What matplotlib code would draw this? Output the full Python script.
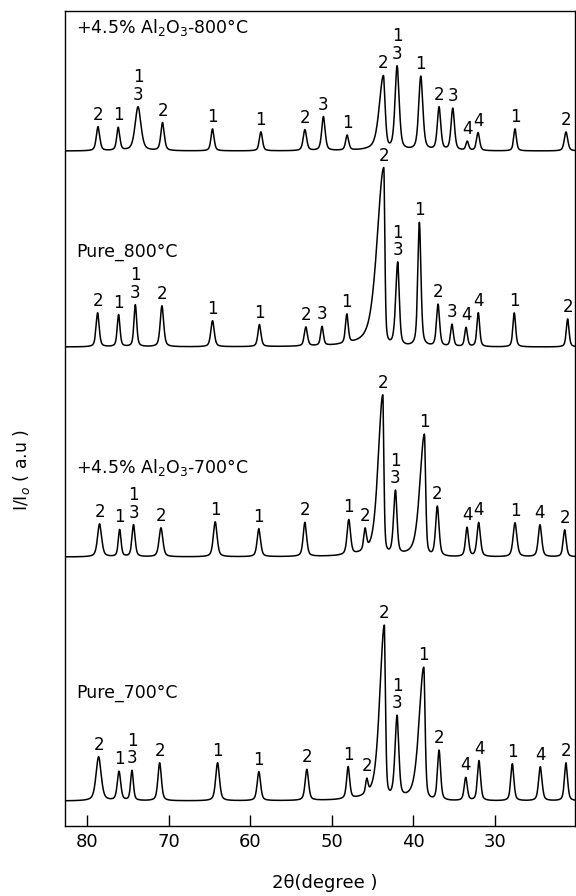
import numpy as np
import matplotlib.pyplot as plt

plt.rcParams['font.family'] = ['DejaVu Sans']

# peak tables: position (2theta), height, fwhm (low-angle side),
# asymmetry (high-angle fwhm / low-angle fwhm), phase label
pos_al800 = [78.65, 76.17, 73.75, 70.74, 64.62, 58.69, 53.3, 51.03, 48.12, 43.68,
             42.0, 39.1, 36.86, 35.18, 33.4, 32.08, 27.55, 21.3]
h_al800 = [24, 23, 44, 28, 22, 19, 21, 34, 15, 74, 84, 74, 43, 42, 9, 18, 22, 19]
w_al800 = [0.5, 0.45, 0.85, 0.5, 0.45, 0.45, 0.5, 0.5, 0.45, 0.5, 0.6, 0.6, 0.5,
           0.5, 0.4, 0.45, 0.4, 0.5]
asym_al800 = [1, 1, 1, 1, 1, 1, 1, 1, 1, 2.4, 1, 1, 1, 1, 1, 1, 1, 1]
lab_al800 = ['2', '1', '1\n3', '2', '1', '1', '2', '3', '1', '2', '1\n3', '1', '2',
             '3', '4', '4', '1', '2']

pos_pure800 = [78.7, 76.13, 74.08, 70.82, 64.62, 58.87, 53.18, 51.2, 48.16, 43.63,
               41.92, 39.27, 36.98, 35.27, 33.55, 32.05, 27.64, 21.1]
h_pure800 = [34, 32, 42, 41, 26, 22, 19, 19, 29, 178, 84, 124, 42, 22, 19, 34, 34, 28]
w_pure800 = [0.45, 0.4, 0.4, 0.5, 0.5, 0.45, 0.45, 0.4, 0.4, 0.3, 0.45, 0.45,
             0.45, 0.4, 0.4, 0.4, 0.4, 0.4]
asym_pure800 = [1, 1, 1, 1, 1, 1, 1, 1, 1, 6.5, 1.3, 1, 1, 1, 1, 1, 1, 1]
lab_pure800 = ['2', '1', '1\n3', '2', '1', '1', '2', '3', '1', '2', '1\n3', '1', '2',
               '3', '4', '4', '1', '2']

pos_al700 = [78.46, 76.0, 74.3, 70.94, 64.29, 58.94, 53.3, 47.92, 45.92, 43.75, 42.2,
             38.65, 37.07, 33.43, 32.0, 27.55, 24.49, 21.46]
h_al700 = [33, 27, 32, 29, 35, 28, 34, 35, 21, 160, 64, 122, 50, 29, 34, 34, 32, 27]
w_al700 = [0.6, 0.4, 0.45, 0.55, 0.55, 0.5, 0.5, 0.5, 0.4, 0.3, 0.45, 0.35,
           0.5, 0.45, 0.5, 0.55, 0.5, 0.45]
asym_al700 = [1, 1, 1, 1, 1, 1, 1, 1, 1, 4.5, 1.2, 3.8, 1, 1, 1, 1, 1, 1]
lab_al700 = ['2', '1', '1\n3', '2', '1', '1', '2', '1', '2', '2', '1\n3', '1',
             '2', '4', '4', '1', '4', '2']

pos_pure700 = [78.58, 76.08, 74.49, 71.1, 64.0, 58.94, 53.06, 48.0, 45.71, 43.56,
               42.0, 38.73, 36.86, 33.59, 31.96, 27.88, 24.45, 21.3]
h_pure700 = [44, 29, 30, 38, 38, 29, 31, 32, 14, 173, 82, 133, 50, 23, 40, 37, 34, 38]
w_pure700 = [0.75, 0.5, 0.4, 0.5, 0.55, 0.5, 0.5, 0.45, 0.35, 0.32, 0.5, 0.38,
             0.45, 0.45, 0.45, 0.45, 0.5, 0.45]
asym_pure700 = [1, 1, 1, 1, 1, 1, 1, 1, 1, 4.2, 1.2, 3.6, 1, 1, 1, 1, 1, 1]
lab_pure700 = ['2', '1', '1\n3', '2', '1', '1', '2', '1', '2', '2', '1\n3', '1',
               '2', '4', '4', '1', '4', '2']

names = ['+4.5% Al$_2$O$_3$-800°C', 'Pure_800°C', '+4.5% Al$_2$O$_3$-700°C', 'Pure_700°C']
offsets = [675, 479, 269, 25]
name_y = [798, 574, 359, 133]

traces = [(pos_al800, h_al800, w_al800, asym_al800, lab_al800),
          (pos_pure800, h_pure800, w_pure800, asym_pure800, lab_pure800),
          (pos_al700, h_al700, w_al700, asym_al700, lab_al700),
          (pos_pure700, h_pure700, w_pure700, asym_pure700, lab_pure700)]


def pv(x, x0, h, w, a=1.0, eta=0.5):
    # split pseudo-voigt, broader on the high-angle side when a > 1
    ww = np.where(x > x0, w*a, w)
    g = np.exp(-4*np.log(2)*((x-x0)/ww)**2)
    l = 1/(1+4*((x-x0)/ww)**2)
    return h*(eta*l+(1-eta)*g)


x = np.linspace(20.0, 83.0, 4000)

fig = plt.figure(figsize=(5.76, 8.96), dpi=100)
ax = fig.add_axes([65/576, 70/896, 510/576, 815/896])

for (pos, h, w, asym, lab), off, nm, ny in zip(traces, offsets, names, name_y):
    y = np.full_like(x, float(off))
    for p, hh, ww, aa in zip(pos, h, w, asym):
        y += pv(x, p, hh, ww, aa)
    ax.plot(x, y, color='black', lw=1.1)
    for p, l in zip(pos, lab):
        top = np.interp(p, x, y)
        ax.text(p, top+3, l, ha='center', va='bottom', fontsize=12,
                linespacing=0.95)
    ax.text(81.3, ny, nm, ha='left', va='center', fontsize=12.5)

ax.set_xlim(82.7, 20.2)
ax.set_ylim(0, 815)
ax.set_xticks([80, 70, 60, 50, 40, 30])
ax.tick_params(axis='x', direction='in', length=8, width=1, labelsize=13, pad=5)
ax.set_yticks([])
for s in ax.spines.values():
    s.set_linewidth(1.0)

fig.text(22/576, (896-470)/896, 'I/I$_o$ ( a.u )', rotation=90, ha='center',
         va='center', fontsize=12.5)
fig.text(325/576, (896-883)/896, '2θ(degree )', ha='center', va='center', fontsize=13)

fig.savefig('out.png', dpi=100)
